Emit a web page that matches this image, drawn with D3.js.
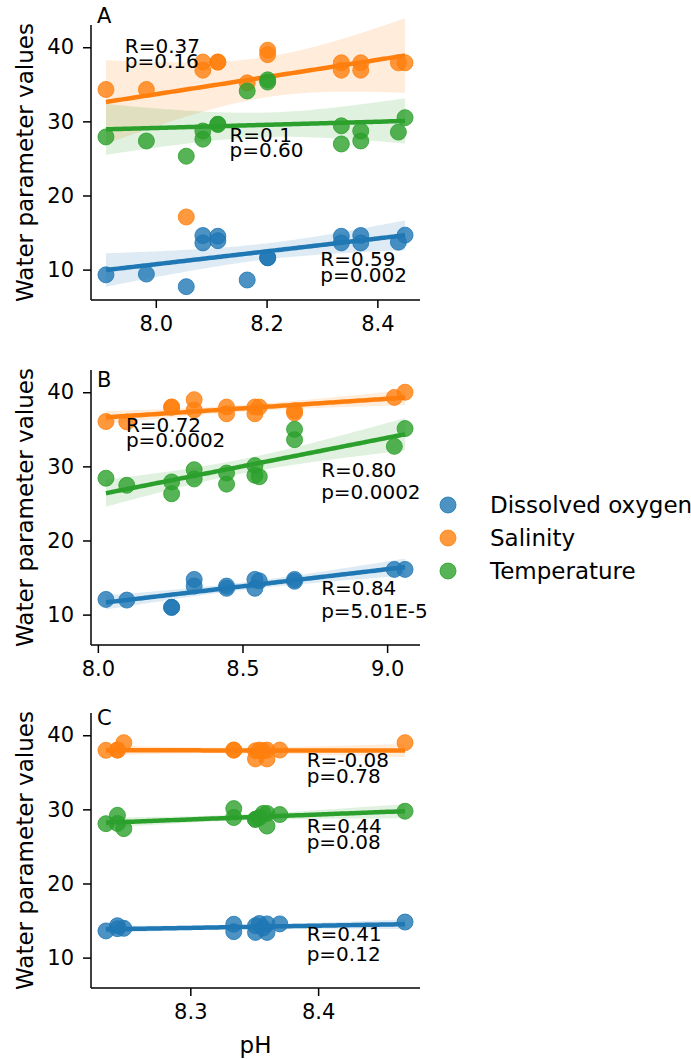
<!DOCTYPE html>
<html>
<head>
<meta charset="utf-8">
<script src="https://cdn.jsdelivr.net/npm/d3@7"></script>
<style>
  body { margin: 0; background: #fff; }
  svg { display: block; font-family: "DejaVu Sans", sans-serif; }
</style>
</head>
<body>
<script>
const seriesNames = ["Dissolved oxygen", "Salinity", "Temperature"];
const colors = ["#1f77b4", "#ff7f0e", "#2ca02c"];
const panelLetters = ["A", "B", "C"];
const yTicks = [10, 20, 30, 40];

// panel A
const phA = [7.91, 7.983, 8.055, 8.085, 8.085, 8.112, 8.112, 8.165, 8.202, 8.202, 8.335, 8.335, 8.37, 8.37, 8.438, 8.45];
const oxygenA = [9.3, 9.4, 7.7, 14.6, 13.6, 14.5, 13.9, 8.6, 11.6, 11.6, 14.5, 13.6, 14.6, 13.6, 13.7, 14.65];
const salinityA = [34.3, 34.3, 17.1, 38.0, 36.9, 38.0, 38.0, 35.2, 39.6, 39.0, 37.9, 36.9, 37.9, 36.9, 37.9, 37.9];
const temperatureA = [27.9, 27.35, 25.3, 28.7, 27.6, 29.6, 29.6, 34.1, 35.6, 35.3, 29.4, 26.95, 28.7, 27.35, 28.55, 30.5];
const xTicksA = [8.0, 8.2, 8.4];
const statsA = [["R=0.59", "p=0.002"], ["R=0.37", "p=0.16"], ["R=0.1", "p=0.60"]];

// panel B
const phB = [8.028, 8.10, 8.255, 8.255, 8.333, 8.333, 8.445, 8.445, 8.543, 8.543, 8.558, 8.68, 8.68, 9.025, 9.062];
const oxygenB = [12.05, 11.96, 10.98, 10.98, 14.75, 13.85, 13.85, 13.55, 14.75, 13.55, 14.56, 14.75, 14.5, 16.1, 16.1];
const salinityB = [36.05, 36.0, 38.0, 38.0, 39.0, 37.6, 38.0, 37.1, 38.0, 37.1, 38.0, 37.5, 37.2, 39.3, 40.0];
const temperatureB = [28.4, 27.45, 27.9, 26.3, 29.55, 28.3, 29.1, 27.6, 30.1, 28.8, 28.6, 35.0, 33.6, 32.7, 35.1];
const xTicksB = [8.0, 8.5, 9.0];
const statsB = [["R=0.84", "p=5.01E-5"], ["R=0.72", "p=0.0002"], ["R=0.80", "p=0.0002"]];

// panel C
const phC = [8.234, 8.243, 8.243, 8.248, 8.334, 8.334, 8.351, 8.351, 8.354, 8.357, 8.36, 8.36, 8.37, 8.468];
const oxygenC = [13.6, 14.3, 13.9, 13.95, 14.5, 13.5, 14.3, 13.4, 14.6, 14.0, 14.55, 13.4, 14.55, 14.8];
const salinityC = [37.97, 38.0, 38.0, 39.0, 38.0, 38.0, 37.9, 36.8, 38.0, 37.9, 38.0, 36.8, 38.0, 39.0];
const temperatureC = [28.07, 29.2, 28.1, 27.4, 30.1, 28.9, 28.65, 28.65, 28.9, 29.45, 29.45, 27.75, 29.3, 29.75];
const xTicksC = [8.3, 8.4];
const statsC = [["R=0.41", "p=0.12"], ["R=-0.08", "p=0.78"], ["R=0.44", "p=0.08"]];

const panels = [
  { ph: phA, values: [oxygenA, salinityA, temperatureA], xTicks: xTicksA, stats: statsA },
  { ph: phB, values: [oxygenB, salinityB, temperatureB], xTicks: xTicksB, stats: statsB },
  { ph: phC, values: [oxygenC, salinityC, temperatureC], xTicks: xTicksC, stats: statsC }
];

// where the R / p labels sit, in data units: [x, yR, yP]
const labelSpots = [
  [[8.297, 10.43, 8.33], [7.944, 39.2, 37.17], [8.133, 27.25, 25.25]],
  [[8.772, 12.64, 9.5], [8.097, 34.6, 32.6], [8.772, 28.56, 25.65]],
  [[8.391, 12.3, 9.6], [8.391, 35.77, 33.6], [8.391, 26.85, 24.6]]
];

const width = 691, height = 1059;
const left = 91, right = 420;
const tops = [25, 370, 713];
const panelH = 275;
const tickFont = 21;
const labelFont = 23;

const svg = d3.select("body").append("svg")
  .attr("width", width)
  .attr("height", height);

function tCrit(df) {
  const z = 1.959964;
  return z + (z ** 3 + z) / (4 * df) + (5 * z ** 5 + 16 * z ** 3 + 3 * z) / (96 * df * df);
}

function fit(xs, ys) {
  const n = xs.length;
  const mx = d3.mean(xs), my = d3.mean(ys);
  let sxx = 0, sxy = 0;
  xs.forEach((x, i) => { sxx += (x - mx) ** 2; sxy += (x - mx) * (ys[i] - my); });
  const b = sxy / sxx, a = my - b * mx;
  let sse = 0;
  xs.forEach((x, i) => { sse += (ys[i] - a - b * x) ** 2; });
  const s = Math.sqrt(sse / (n - 2));
  const t = tCrit(n - 2);
  const [lo, hi] = d3.extent(xs);
  const grid = d3.range(100).map(i => lo + (hi - lo) * i / 99);
  return grid.map(x => {
    const yhat = a + b * x;
    const se = s * Math.sqrt(1 / n + (x - mx) ** 2 / sxx);
    return { x, y: yhat, y0: yhat - t * se, y1: yhat + t * se };
  });
}

panels.forEach((p, k) => {
  const top = tops[k];
  const [lo, hi] = d3.extent(p.ph);
  const pad = (hi - lo) * 0.05;
  const x = d3.scaleLinear().domain([lo - pad, hi + pad]).range([left, right]);
  const y = d3.scaleLinear().domain([5.9, 43]).range([top + panelH, top]);

  const g = svg.append("g");

  p.values.forEach((vals, s) => {
    const pts = p.ph.map((v, i) => [v, vals[i]]);
    g.append("g").selectAll("circle")
      .data(pts)
      .join("circle")
      .attr("cx", d => x(d[0]))
      .attr("cy", d => y(d[1]))
      .attr("r", 8)
      .attr("fill", colors[s])
      .attr("fill-opacity", 0.8)
      .attr("stroke", colors[s])
      .attr("stroke-opacity", 0.8)
      .attr("stroke-width", 1);

    const line = fit(p.ph, vals);
    g.append("path")
      .datum(line)
      .attr("fill", colors[s])
      .attr("fill-opacity", 0.15)
      .attr("d", d3.area().x(d => x(d.x)).y0(d => y(d.y0)).y1(d => y(d.y1)));
    g.append("path")
      .datum(line)
      .attr("fill", "none")
      .attr("stroke", colors[s])
      .attr("stroke-width", 4.5)
      .attr("d", d3.line().x(d => x(d.x)).y(d => y(d.y)));
  });

  // axes
  const yAxis = g.append("g")
    .attr("transform", `translate(${left},0)`)
    .call(d3.axisLeft(y).tickValues(yTicks).tickSize(8).tickPadding(9).tickFormat(d3.format("d")));
  const xAxis = g.append("g")
    .attr("transform", `translate(0,${top + panelH})`)
    .call(d3.axisBottom(x).tickValues(p.xTicks).tickSize(8).tickPadding(8).tickFormat(d3.format(".1f")));
  [yAxis, xAxis].forEach(ax => {
    ax.select(".domain").attr("stroke", "#000").attr("stroke-width", 1.5)
      .attr("d", ax === yAxis ? `M0,${top}V${top + panelH}` : `M${left},0H${right}`);
    ax.selectAll(".tick line").attr("stroke", "#000").attr("stroke-width", 1.5);
    ax.selectAll(".tick text")
      .attr("fill", "#000")
      .style("font-size", tickFont + "px")
      .style("font-family", "DejaVu Sans, sans-serif");
  });

  // R / p labels
  p.stats.forEach((st, s) => {
    const spot = labelSpots[k][s];
    g.append("text").attr("x", x(spot[0])).attr("y", y(spot[1]))
      .style("font-size", "20px").text(st[0]);
    g.append("text").attr("x", x(spot[0])).attr("y", y(spot[2]))
      .style("font-size", "20px").text(st[1]);
  });

  g.append("text")
    .attr("x", 97)
    .attr("y", [23, 387, 725][k])
    .style("font-size", tickFont + "px")
    .text(panelLetters[k]);

  g.append("text")
    .attr("transform", `translate(33,${top + panelH / 2}) rotate(-90)`)
    .attr("text-anchor", "middle")
    .style("font-size", labelFont + "px")
    .text("Water parameter values");
});

svg.append("text")
  .attr("x", (left + right) / 2)
  .attr("y", 1053)
  .attr("text-anchor", "middle")
  .style("font-size", labelFont + "px")
  .text("pH");

// legend
const legend = svg.append("g").attr("transform", "translate(448,505)");
seriesNames.forEach((name, i) => {
  const row = legend.append("g").attr("transform", `translate(0,${i * 33})`);
  row.append("circle").attr("r", 8)
    .attr("fill", colors[i]).attr("fill-opacity", 0.8)
    .attr("stroke", colors[i]).attr("stroke-opacity", 0.8);
  row.append("text").attr("x", 42).attr("dy", "0.35em")
    .style("font-size", labelFont + "px")
    .text(name);
});
</script>
</body>
</html>
